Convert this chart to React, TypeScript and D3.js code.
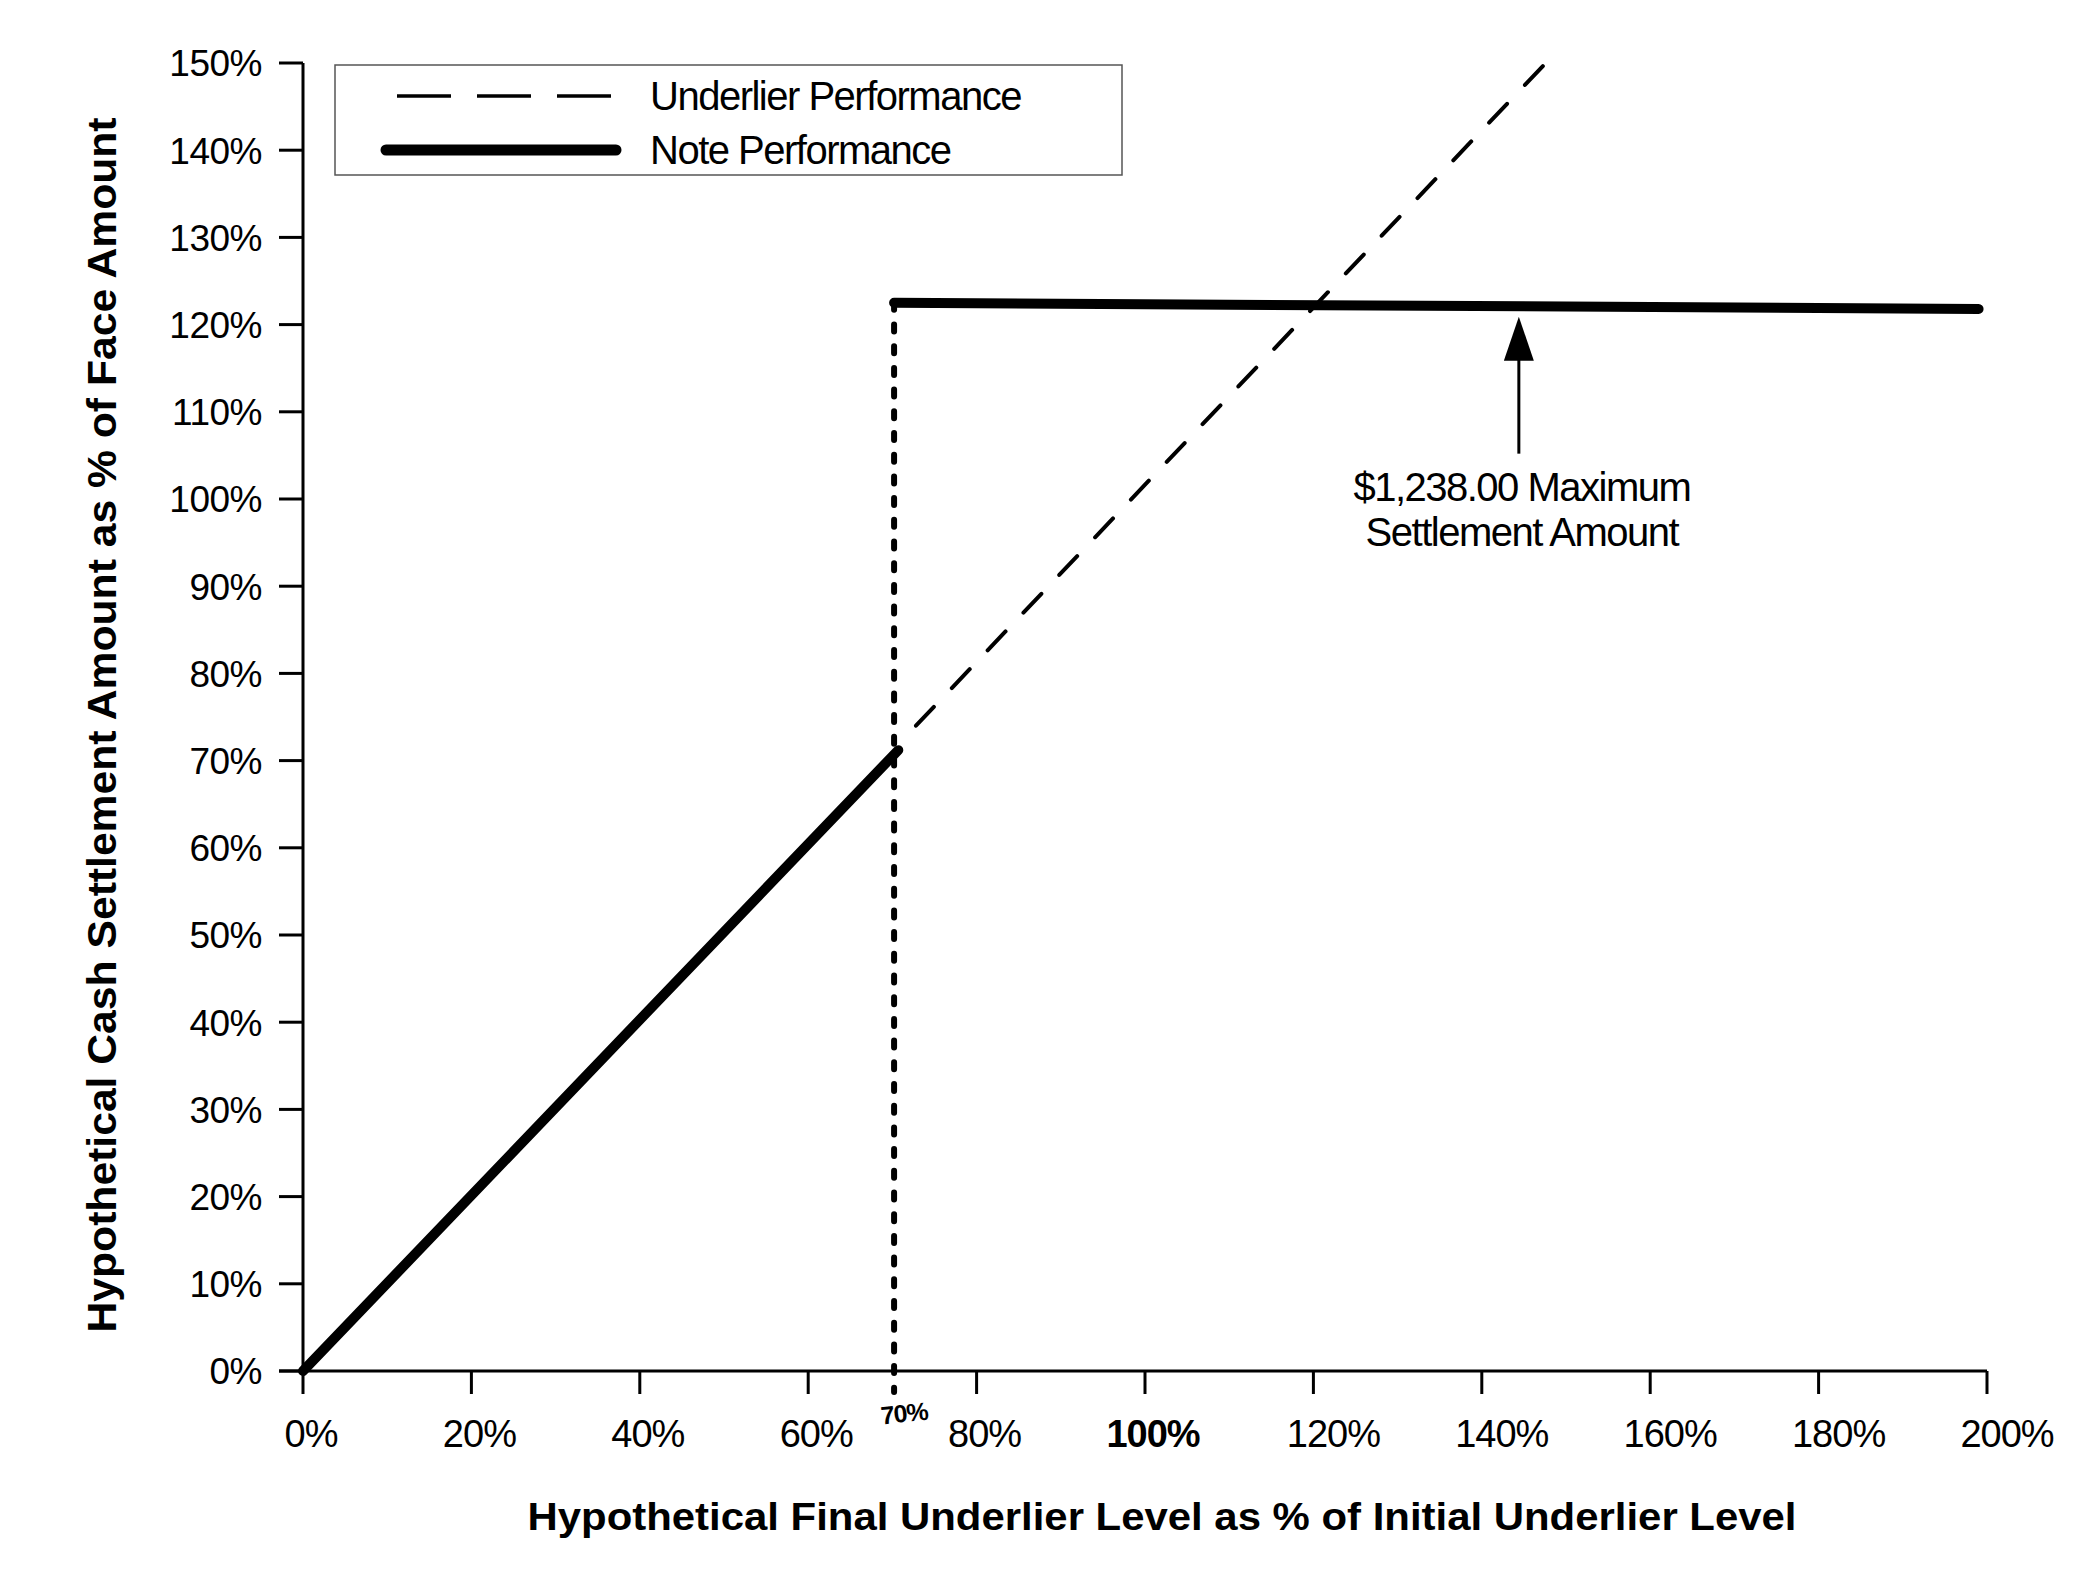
import React from "react";
import * as d3 from "d3";

// axis ticks (in %)
const xTicks = [0, 20, 40, 60, 80, 100, 120, 140, 160, 180, 200];
const yTicks = [0, 10, 20, 30, 40, 50, 60, 70, 80, 90, 100, 110, 120, 130, 140, 150];

// note performance: linear part below the threshold, then capped
const noteBelow = [
  { x: 0, y: 0 },
  { x: 70.7, y: 71.2 },
];
const noteCapped = [
  { x: 70.2, y: 122.5 },
  { x: 199, y: 121.8 },
];
// underlier performance (dashed), drawn above the threshold only
const underlier = [
  { x: 72.8, y: 74.0 },
  { x: 147.6, y: 150 },
];
const thresholdX = 70.2;
const thresholdLabel = "70%";
const capAnnotation = { x: 144.4, from: 105.2, to: 120.9 };
const capText = ["$1,238.00 Maximum", "Settlement Amount"];

const legendItems = ["Underlier Performance", "Note Performance"];
const xTitle = "Hypothetical Final Underlier Level as % of Initial Underlier Level";
const yTitle = "Hypothetical Cash Settlement Amount as % of Face Amount";

const FONT = "'Liberation Sans', Arial, Helvetica, sans-serif";

const App = () => {
  const width = 2084;
  const height = 1592;
  const x = d3.scaleLinear().domain([0, 200]).range([303, 1987]);
  const y = d3.scaleLinear().domain([0, 150]).range([1371, 63]);

  const line = d3
    .line<{ x: number; y: number }>()
    .x((d) => x(d.x))
    .y((d) => y(d.y));

  const tickLen = 23;
  const arrowTip = y(capAnnotation.to);
  const headLen = 44;
  const headHalf = 15;
  const ax = x(capAnnotation.x);

  return (
    <div style={{ position: "absolute", left: 0, top: 0 }}>
      <svg width={width} height={height} style={{ display: "block", background: "#fff" }}>
        <rect width={width} height={height} fill="#fff" />

        {/* y axis */}
        <line x1={x(0)} x2={x(0)} y1={y(150)} y2={y(0)} stroke="#000" strokeWidth={3} />
        {yTicks.map((t) => (
          <g key={`y${t}`}>
            <line x1={x(0) - 24} x2={x(0)} y1={y(t)} y2={y(t)} stroke="#000" strokeWidth={3} />
            <text
              x={262}
              y={y(t)}
              dy="0.36em"
              textAnchor="end"
              fontFamily={FONT}
              fontSize={37}
              letterSpacing={-0.5}
            >
              {t}%
            </text>
          </g>
        ))}

        {/* x axis */}
        <line x1={x(0) - 24} x2={x(200)} y1={y(0)} y2={y(0)} stroke="#000" strokeWidth={3} />
        {xTicks.map((t) => (
          <g key={`x${t}`}>
            <line x1={x(t)} x2={x(t)} y1={y(0)} y2={y(0) + tickLen} stroke="#000" strokeWidth={3} />
            <text
              x={x(t) + (t >= 120 ? 20 : 8)}
              y={1447}
              textAnchor="middle"
              fontFamily={FONT}
              fontSize={38}
              fontWeight={t === 100 ? "bold" : "normal"}
              letterSpacing={-1}
            >
              {t}%
            </text>
          </g>
        ))}

        {/* threshold */}
        <line
          x1={x(thresholdX)}
          x2={x(thresholdX)}
          y1={y(noteCapped[0].y)}
          y2={y(0) + tickLen - 2}
          stroke="#000"
          strokeWidth={6}
          strokeDasharray="7 14.7"
          strokeLinecap="round"
        />
        <text
          transform={`translate(${x(thresholdX) + 11},${1422}) rotate(-6)`}
          textAnchor="middle"
          fontFamily={FONT}
          fontSize={25}
          fontWeight="bold"
          letterSpacing={-1}
        >
          {thresholdLabel}
        </text>

        {/* underlier */}
        <path
          d={line(underlier) ?? ""}
          fill="none"
          stroke="#000"
          strokeWidth={4}
          strokeDasharray="26 26"
          strokeLinecap="round"
        />

        {/* note */}
        <path d={line(noteBelow) ?? ""} fill="none" stroke="#000" strokeWidth={10} strokeLinecap="round" />
        <path d={line(noteCapped) ?? ""} fill="none" stroke="#000" strokeWidth={10} strokeLinecap="round" />

        {/* cap annotation */}
        <line
          x1={ax}
          x2={ax}
          y1={y(capAnnotation.from)}
          y2={arrowTip + headLen - 2}
          stroke="#000"
          strokeWidth={3}
        />
        <polygon
          points={`${ax},${arrowTip} ${ax - headHalf},${arrowTip + headLen} ${ax + headHalf},${arrowTip + headLen}`}
          fill="#000"
        />
        {capText.map((s, i) => (
          <text
            key={s}
            x={ax + 3}
            y={501 + i * 45}
            textAnchor="middle"
            fontFamily={FONT}
            fontSize={40}
            letterSpacing={-1.5}
          >
            {s}
          </text>
        ))}

        {/* legend */}
        <rect x={335} y={65} width={787} height={110} fill="#fff" stroke="#555" strokeWidth={1.5} />
        <line x1={397} x2={611} y1={96} y2={96} stroke="#000" strokeWidth={3.5} strokeDasharray="54 26" />
        <line x1={386} x2={616} y1={150} y2={150} stroke="#000" strokeWidth={11} strokeLinecap="round" />
        {legendItems.map((s, i) => (
          <text
            key={s}
            x={650}
            y={110 + i * 54}
            fontFamily={FONT}
            fontSize={40}
            letterSpacing={-1.5}
          >
            {s}
          </text>
        ))}

        {/* axis titles */}
        <text
          x={1162}
          y={1530}
          textAnchor="middle"
          fontFamily={FONT}
          fontSize={38}
          fontWeight="bold"
          textLength={1269}
          lengthAdjust="spacingAndGlyphs"
        >
          {xTitle}
        </text>
        <text
          transform={`translate(116,725) rotate(-90)`}
          textAnchor="middle"
          fontFamily={FONT}
          fontSize={41}
          fontWeight="bold"
          textLength={1215}
          lengthAdjust="spacingAndGlyphs"
        >
          {yTitle}
        </text>
      </svg>
    </div>
  );
};

export default App;
